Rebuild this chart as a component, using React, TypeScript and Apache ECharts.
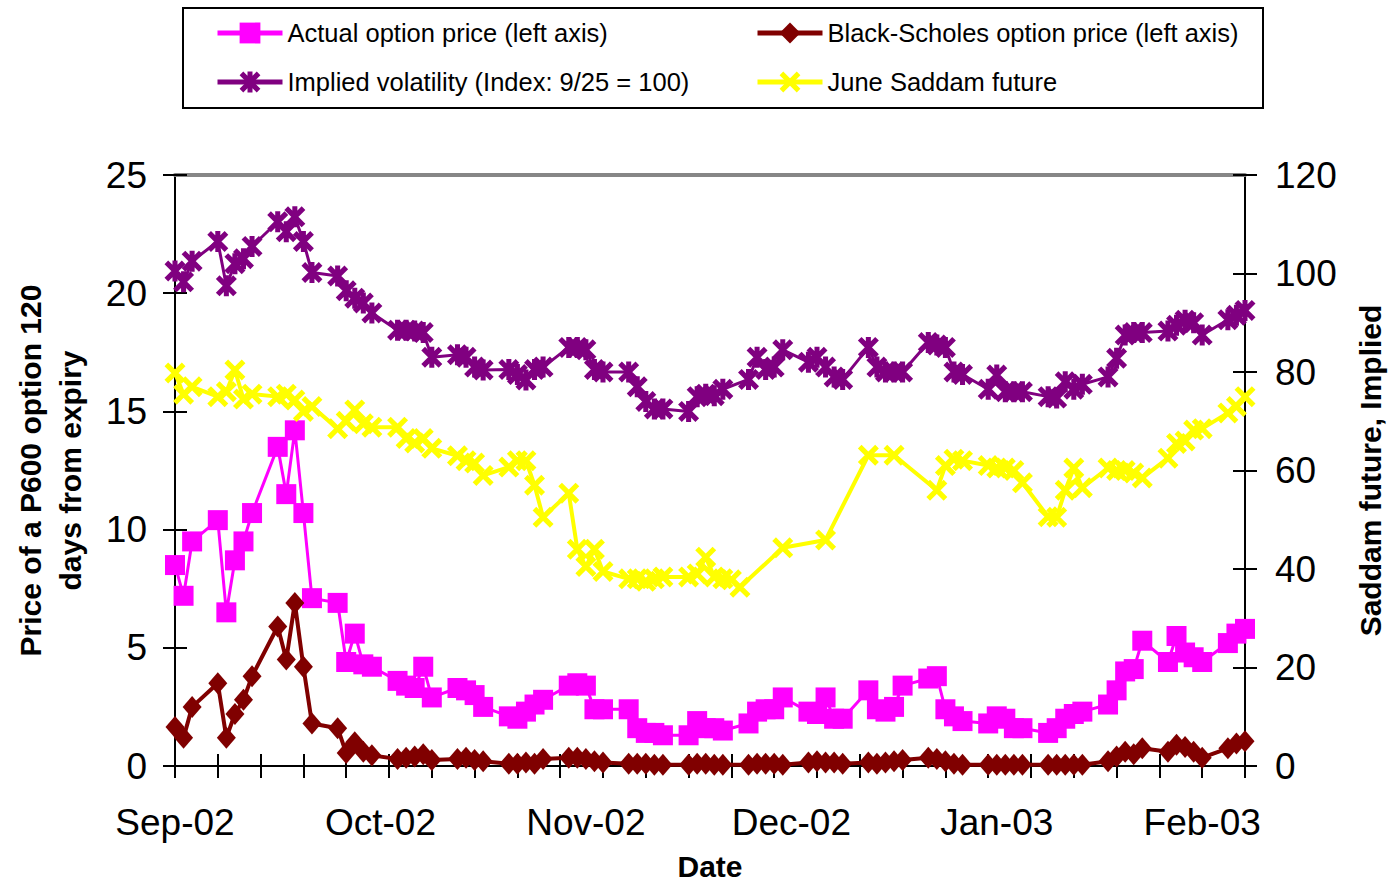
import React, { useEffect, useRef } from "react";
import * as echarts from "echarts";

const FONT = "'Liberation Sans', Arial, sans-serif";

// x axis: 126 day slots, labels every 24 slots, ticks every 5 slots
const monthLabels = ["Sep-02", "Oct-02", "Nov-02", "Dec-02", "Jan-03", "Feb-03"];
const categories = Array.from({ length: 126 }, (_, i) => `day${i}`);

const seriesNames = [
  "Actual option price (left axis)",
  "Black-Scholes option price (left axis)",
  "Implied volatility (Index: 9/25 = 100)",
  "June Saddam future",
];

const _ = null;

// left axis
const actualPrice = [
  8.5, 7.2, 9.5, _, _, 10.4, 6.5,
  8.7, 9.5, 10.7, _, _, 13.5, 11.5,
  14.2, 10.7, 7.1, _, _, 6.9, 4.4,
  5.6, 4.3, 4.2, _, _, 3.6, 3.4,
  3.3, 4.2, 2.9, _, _, 3.3, 3.2,
  3.0, 2.5, _, _, 2.1, 2.0, 2.3,
  2.6, 2.8, _, _, 3.4, 3.5, 3.4,
  2.4, 2.4, _, _, 2.4, 1.6, 1.4,
  1.4, 1.3, _, _, 1.3, 1.9, 1.6,
  1.6, 1.5, _, _, 1.8, 2.3, 2.4,
  2.4, 2.9, _, _, 2.3, 2.2, 2.9,
  2.0, 2.0, _, _, 3.2, 2.4, 2.3,
  2.5, 3.4, _, _, 3.7, 3.8, 2.4,
  2.1, 1.9, _, _, 1.8, 2.1, 2.0,
  1.6, 1.6, _, _, 1.4, 1.6, 2.0,
  2.2, 2.3, _, _, 2.6, 3.2, 4.0,
  4.1, 5.3, _, _, 4.4, 5.5, 4.8,
  4.6, 4.4, _, _, 5.2, 5.6, 5.8,
];

const blackScholes = [
  1.65, 1.2, 2.5, _, _, 3.5, 1.2,
  2.2, 2.8, 3.8, _, _, 5.9, 4.5,
  6.9, 4.2, 1.8, _, _, 1.6, 0.55,
  1.0, 0.6, 0.45, _, _, 0.3, 0.35,
  0.4, 0.5, 0.25, _, _, 0.3, 0.35,
  0.25, 0.2, _, _, 0.1, 0.1, 0.15,
  0.1, 0.3, _, _, 0.35, 0.35, 0.3,
  0.2, 0.15, _, _, 0.1, 0.1, 0.1,
  0.05, 0.05, _, _, 0.05, 0.1, 0.1,
  0.05, 0.05, _, _, 0.05, 0.1, 0.1,
  0.1, 0.05, _, _, 0.15, 0.2, 0.15,
  0.15, 0.1, _, _, 0.15, 0.1, 0.15,
  0.2, 0.25, _, _, 0.35, 0.3, 0.2,
  0.1, 0.05, _, _, 0.05, 0.05, 0.05,
  0.05, 0.05, _, _, 0.05, 0.05, 0.05,
  0.05, 0.05, _, _, 0.2, 0.4, 0.6,
  0.5, 0.75, _, _, 0.6, 0.9, 0.8,
  0.6, 0.35, _, _, 0.75, 0.95, 1.05,
];

// right axis
const impliedVol = [
  100.5, 98.3, 102.5, _, _, 106.5, 97.5,
  102, 103, 105.5, _, _, 110.5, 108.5,
  111.5, 106.5, 100.2, _, _, 99.5, 96.5,
  95, 94, 92, _, _, 88.5, 88.5,
  88.3, 88, 83, _, _, 83.5, 83,
  81, 80.4, _, _, 80.5, 79.5, 78.4,
  80.5, 81, _, _, 85, 85, 84.5,
  80.5, 80, _, _, 80, 77, 74,
  72.5, 72.5, _, _, 72, 75, 75.5,
  75.2, 76.5, _, _, 78.5, 83, 80.5,
  81, 84.5, _, _, 82, 83, 81,
  79, 78.5, _, _, 85, 81, 80,
  80, 80, _, _, 86, 85.5, 85,
  80, 79.5, _, _, 76.5, 79.4, 76,
  76, 76, _, _, 75, 74.7, 78,
  76.5, 77.5, _, _, 79, 82.8, 87.5,
  88, 88, _, _, 88.3, 89.5, 90.5,
  90, 87.5, _, _, 90.6, 91.5, 92.5,
];

const saddamFuture = [
  79.8, 75.5, 77, _, _, 75, 76,
  80.4, 74.5, 75.5, _, _, 75, 75.5,
  74.3, 72, 73, _, _, 68.5, 70,
  72.3, 69.5, 68.8, _, _, 68.8, 66.5,
  65.6, 66.5, 64.5, _, _, 63, 62,
  61.5, 59, _, _, 60.7, 62, 62,
  57, 50.5, _, _, 55.4, 44, 40.5,
  44, 39.5, _, _, 38, 38, 37.5,
  38, 38.4, _, _, 38.4, 39, 42.4,
  38.4, 38, 37.8, 36.3, _, _, _,
  _, 44.3, _, _, _, _, 45.9,
  _, _, _, _, 63.1, _, _,
  63.1, _, _, _, _, 56, 61,
  62.3, 62, _, _, 61, 60.5, 60.5,
  60, 57.5, _, _, 50.6, 50.5, 56,
  60.5, 56.5, _, _, 60.5, 60, 60,
  59.5, 58.5, _, _, 62.5, 65.5, 66,
  68.2, 68.5, _, _, 71.7, 73, 75,
];

const leftTicks = { min: 0, max: 25, interval: 5 };
const rightTicks = { min: 0, max: 120, interval: 20 };

const STAR =
  "path://M0,3.5L3.5,0L20,16.5L16.5,20Z M16.5,0L20,3.5L3.5,20L0,16.5Z M7.6,0L12.4,0L12.4,20L7.6,20Z";
const CROSS = "path://M0,3.5L3.5,0L20,16.5L16.5,20Z M16.5,0L20,3.5L3.5,20L0,16.5Z";

export default function App() {
  const ref = useRef<HTMLDivElement>(null);

  useEffect(() => {
    document.body.style.margin = "0";
    document.body.style.overflow = "hidden";
    if (!ref.current) return;
    const chart = echarts.init(ref.current, undefined, { renderer: "svg" });

    const black = { color: "#000", width: 2 };
    const tickLabelStyle = { color: "#000", fontSize: 37, fontFamily: FONT };
    const titleStyle = { color: "#000", fontSize: 30, fontWeight: "bold", fontFamily: FONT, lineHeight: 40 };

    const legendBase = {
      itemWidth: 65,
      itemHeight: 26,
      padding: 0,
      selectedMode: false,
      lineStyle: { width: 5 },
      textStyle: { color: "#000", fontSize: 25.5, fontFamily: FONT },
    };

    const option: any = {
      animation: false,
      backgroundColor: "#fff",
      grid: {
        left: 175,
        right: 145,
        top: 175,
        bottom: 115,
        containLabel: false,
        outerBoundsMode: "none",
      },
      legend: [
        { ...legendBase, data: [seriesNames[0]], left: 215, top: 20 },
        { ...legendBase, data: [seriesNames[1]], left: 755, top: 20 },
        { ...legendBase, data: [seriesNames[2]], left: 215, top: 69 },
        { ...legendBase, data: [seriesNames[3]], left: 755, top: 69 },
      ],
      graphic: [
        {
          type: "rect",
          shape: { x: 183, y: 8, width: 1080, height: 100 },
          style: { fill: "none", stroke: "#000", lineWidth: 2 },
          silent: true,
        },
      ],
      xAxis: [
        {
          type: "category",
          data: categories,
          position: "bottom",
          boundaryGap: false,
          axisLine: { show: true, onZero: false, lineStyle: black },
          axisTick: { show: true, interval: 4, length: 12, lineStyle: black },
          axisLabel: {
            ...tickLabelStyle,
            interval: 23,
            margin: 38,
            formatter: (_v: string, i: number) => (i % 24 === 0 ? monthLabels[i / 24] ?? "" : ""),
          },
          splitLine: { show: false },
          name: "Date",
          nameLocation: "middle",
          nameGap: 85,
          nameTextStyle: { ...titleStyle, lineHeight: 30 },
        },
        {
          type: "category",
          data: categories,
          position: "bottom",
          boundaryGap: false,
          axisLine: { show: false, onZero: false },
          axisTick: { show: true, inside: true, interval: 4, length: 12, lineStyle: black },
          axisLabel: { show: false },
          splitLine: { show: false },
        },
        {
          type: "category",
          data: categories,
          position: "top",
          boundaryGap: false,
          axisLine: { show: true, onZero: false, lineStyle: { color: "#868686", width: 4 } },
          axisTick: { show: false },
          axisLabel: { show: false },
          splitLine: { show: false },
        },
      ],
      yAxis: [
        {
          type: "value",
          position: "left",
          ...leftTicks,
          axisLine: { show: true, onZero: false, lineStyle: black },
          axisTick: { show: true, length: 12, lineStyle: black },
          axisLabel: { ...tickLabelStyle, margin: 28 },
          splitLine: { show: false },
          name: "Price of a P600 option 120\ndays from expiry",
          nameLocation: "middle",
          nameRotate: 90,
          nameGap: 85,
          nameTextStyle: titleStyle,
        },
        {
          type: "value",
          position: "right",
          ...rightTicks,
          axisLine: { show: true, onZero: false, lineStyle: black },
          axisTick: { show: true, length: 12, lineStyle: black },
          axisLabel: { ...tickLabelStyle, margin: 30 },
          splitLine: { show: false },
          name: "Saddam future, Implied",
          nameLocation: "middle",
          nameRotate: 90,
          nameGap: 105,
          nameTextStyle: titleStyle,
        },
        {
          type: "value",
          position: "left",
          ...leftTicks,
          axisLine: { show: false, onZero: false },
          axisTick: { show: true, inside: true, length: 12, lineStyle: black },
          axisLabel: { show: false },
          splitLine: { show: false },
        },
        {
          type: "value",
          position: "right",
          ...rightTicks,
          axisLine: { show: false, onZero: false },
          axisTick: { show: true, inside: true, length: 12, lineStyle: black },
          axisLabel: { show: false },
          splitLine: { show: false },
        },
      ],
      series: [
        {
          name: seriesNames[0],
          type: "line",
          xAxisIndex: 0,
          yAxisIndex: 0,
          data: actualPrice,
          connectNulls: true,
          showAllSymbol: true,
          symbol: "rect",
          symbolSize: 20,
          color: "#FF00FF",
          itemStyle: { color: "#FF00FF" },
          lineStyle: { color: "#FF00FF", width: 3 },
          silent: true,
        },
        {
          name: seriesNames[1],
          type: "line",
          xAxisIndex: 0,
          yAxisIndex: 0,
          data: blackScholes,
          connectNulls: true,
          showAllSymbol: true,
          symbol: "diamond",
          symbolSize: [19, 22],
          color: "#800000",
          itemStyle: { color: "#800000" },
          lineStyle: { color: "#800000", width: 4 },
          silent: true,
        },
        {
          name: seriesNames[2],
          type: "line",
          xAxisIndex: 0,
          yAxisIndex: 1,
          data: impliedVol,
          connectNulls: true,
          showAllSymbol: true,
          symbol: STAR,
          symbolSize: 21,
          color: "#800080",
          itemStyle: { color: "#800080" },
          lineStyle: { color: "#800080", width: 3 },
          silent: true,
        },
        {
          name: seriesNames[3],
          type: "line",
          xAxisIndex: 0,
          yAxisIndex: 1,
          data: saddamFuture,
          connectNulls: true,
          showAllSymbol: true,
          symbol: CROSS,
          symbolSize: 21,
          color: "#FFFF00",
          itemStyle: { color: "#FFFF00" },
          lineStyle: { color: "#FFFF00", width: 4 },
          silent: true,
        },
      ],
    };

    chart.setOption(option);
    return () => {
      chart.dispose();
    };
  }, []);

  return (
    <div
      ref={ref}
      style={{ position: "fixed", left: 0, top: 0, width: 1390, height: 881 }}
    />
  );
}
